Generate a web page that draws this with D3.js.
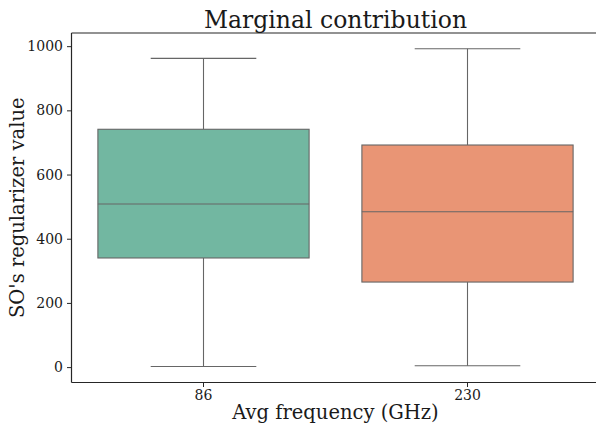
<!DOCTYPE html>
<html>
<head>
<meta charset="utf-8">
<script src="https://cdn.jsdelivr.net/npm/d3@7"></script>
<style>
  html, body { margin: 0; padding: 0; background: #fff; }
  svg text { font-family: "DejaVu Serif", serif; fill: #1a1a1a; }
</style>
</head>
<body>
<svg id="chart" width="596" height="428"></svg>
<script>
// Box summaries per frequency group
const categories = ["86", "230"];
const whiskerLow  = [2, 4];
const q1          = [340, 265];
const median      = [508, 484];
const q3          = [741, 692];
const whiskerHigh = [962, 992];
const fills = ["#72b7a1", "#e99575"];
const yTicks = [0, 200, 400, 600, 800, 1000];

const svg = d3.select("#chart");
const m = { left: 71.5, top: 33, right: 599.5, bottom: 382.5 };

const x = d3.scaleBand().domain(categories)
  .range([m.left, m.right]).paddingInner(0).paddingOuter(0);
const y = d3.scaleLinear().domain([-48, 1041]).range([m.bottom, m.top]);

const boxW = x.bandwidth() * 0.8;
const capW = boxW * 0.5;
const lineColor = "#666666";

const data = categories.map((c, i) => ({
  c, lo: whiskerLow[i], q1: q1[i], med: median[i], q3: q3[i], hi: whiskerHigh[i], fill: fills[i]
}));

const g = svg.append("g");
data.forEach(d => {
  const cx = x(d.c) + x.bandwidth() / 2;
  // whiskers
  g.append("line").attr("x1", cx).attr("x2", cx)
    .attr("y1", y(d.q3)).attr("y2", y(d.hi))
    .attr("stroke", lineColor).attr("stroke-width", 1.1);
  g.append("line").attr("x1", cx).attr("x2", cx)
    .attr("y1", y(d.q1)).attr("y2", y(d.lo))
    .attr("stroke", lineColor).attr("stroke-width", 1.1);
  // caps
  [d.lo, d.hi].forEach(v => {
    g.append("line").attr("x1", cx - capW / 2).attr("x2", cx + capW / 2)
      .attr("y1", y(v)).attr("y2", y(v))
      .attr("stroke", lineColor).attr("stroke-width", 1.1);
  });
  // box
  g.append("rect").attr("x", cx - boxW / 2).attr("width", boxW)
    .attr("y", y(d.q3)).attr("height", y(d.q1) - y(d.q3))
    .attr("fill", d.fill).attr("stroke", lineColor).attr("stroke-width", 1.1);
  // median
  g.append("line").attr("x1", cx - boxW / 2).attr("x2", cx + boxW / 2)
    .attr("y1", y(d.med)).attr("y2", y(d.med))
    .attr("stroke", lineColor).attr("stroke-width", 1.1);
});

// axes
const yAxis = d3.axisLeft(y).tickValues(yTicks).tickFormat(d3.format("d")).tickSize(4.5).tickPadding(4);
const ya = svg.append("g").attr("transform", `translate(${m.left},0)`).call(yAxis);
ya.select(".domain").remove();
ya.selectAll(".tick line").attr("stroke", "#262626").attr("stroke-width", 1);
ya.selectAll(".tick text").attr("font-size", 14).attr("font-family", "DejaVu Serif").attr("fill", "#1a1a1a");

const xAxis = d3.axisBottom(x).tickSize(4.5).tickPadding(3);
const xa = svg.append("g").attr("transform", `translate(0,${m.bottom})`).call(xAxis);
xa.select(".domain").remove();
xa.selectAll(".tick line").attr("stroke", "#262626").attr("stroke-width", 1);
xa.selectAll(".tick text").attr("font-size", 14).attr("font-family", "DejaVu Serif").attr("fill", "#1a1a1a");

// spines: left, bottom, top
const spine = { stroke: "#262626", "stroke-width": 1.2 };
[[m.left, m.top, m.left, m.bottom], [m.left, m.bottom, m.right, m.bottom], [m.left, m.top, m.right, m.top]]
  .forEach(([x1, y1, x2, y2]) => {
    svg.append("line").attr("x1", x1).attr("y1", y1).attr("x2", x2).attr("y2", y2)
      .attr("stroke", spine.stroke).attr("stroke-width", spine["stroke-width"]);
  });

// titles
const cxAxis = (m.left + m.right) / 2;
svg.append("text").attr("x", cxAxis).attr("y", 28)
  .attr("text-anchor", "middle").attr("font-size", 23.5).text("Marginal contribution");
svg.append("text").attr("x", cxAxis).attr("y", 419)
  .attr("text-anchor", "middle").attr("font-size", 19.5).text("Avg frequency (GHz)");
svg.append("text").attr("transform", `translate(24,${(m.top + m.bottom) / 2}) rotate(-90)`)
  .attr("text-anchor", "middle").attr("font-size", 19.5).text("SO's regularizer value");
</script>
</body>
</html>
